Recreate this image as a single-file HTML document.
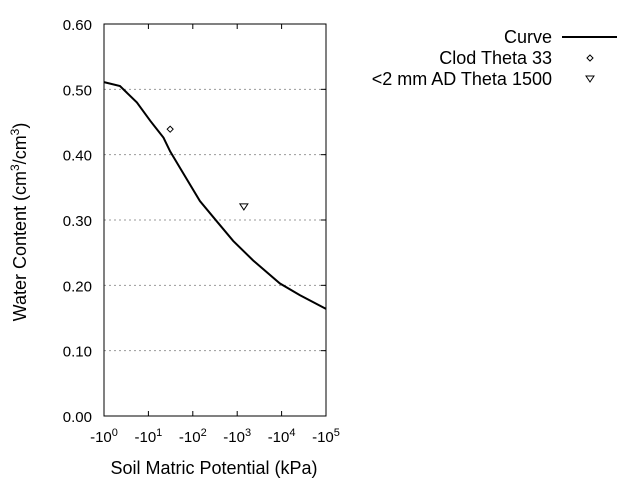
<!DOCTYPE html>
<html><head><meta charset="utf-8"><style>
body{margin:0;background:#fff;}
svg text{font-family:"Liberation Sans",Arial,sans-serif;}
</style></head><body>
<svg id="chart" width="640" height="480" xmlns="http://www.w3.org/2000/svg">
<g id="grid"></g>
<g id="axes"></g>
<g id="series"></g>
<text transform="translate(26,222) rotate(-90)" text-anchor="middle" font-size="18">Water Content (cm<tspan dy="-7" font-size="12">3</tspan><tspan dy="7">/cm</tspan><tspan dy="-7" font-size="12">3</tspan><tspan dy="7">)</tspan></text>
<text x="214" y="474" text-anchor="middle" font-size="18">Soil Matric Potential (kPa)</text>
<g>
<text x="552" y="43" text-anchor="end" font-size="18">Curve</text>
<line x1="562" y1="37" x2="617" y2="37" stroke="#000" stroke-width="2"/>
<text x="552" y="64" text-anchor="end" font-size="18">Clod Theta 33</text>
<path d="M590,55 L593,58 L590,61 L587,58 Z" fill="none" stroke="#000" stroke-width="1"/>
<text x="552" y="85" text-anchor="end" font-size="18">&lt;2 mm AD Theta 1500</text>
<path d="M586,76 L594,76 L590,82 Z" fill="none" stroke="#000" stroke-width="1"/>
</g>
</svg>
<script>
const curveLogH=[0,0.36,0.74,1.04,1.34,1.49,1.71,2.16,2.54,2.91,3.36,3.96,4.41,5];
const curveTheta=[0.511,0.505,0.48,0.452,0.426,0.405,0.38,0.329,0.298,0.268,0.238,0.203,0.185,0.164];
const clodLogH=[1.49];
const clodTheta=[0.439];
const adLogH=[3.15];
const adTheta=[0.32];
const yTicks=[0,0.1,0.2,0.3,0.4,0.5,0.6];
const xTickExp=[0,1,2,3,4,5];
const L=104,R=326,T=24,B=416;
const xs=v=>L+(v-0)/(5-0)*(R-L);
const ys=v=>B-v/0.6*(B-T);
const NS='http://www.w3.org/2000/svg';
function mk(tag,parent,attrs){const e=document.createElementNS(NS,tag);for(const k in attrs)e.setAttribute(k,attrs[k]);parent.appendChild(e);return e;}
const grid=document.getElementById('grid'),axes=document.getElementById('axes'),ser=document.getElementById('series');
yTicks.forEach(v=>{
  const y=ys(v);
  if(v>0&&v<0.6){const g=mk('line',grid,{x1:L,x2:R,y1:y,y2:y,stroke:'#999','stroke-dasharray':'2,3','stroke-width':1});
  
  }
  const t=mk('text',axes,{x:L-12,y:y+6,'text-anchor':'end','font-size':15});
  
  
  t.textContent=v.toFixed(2);
  const tk=mk('line',axes,{x1:R-5,x2:R,y1:y,y2:y,stroke:'#000'});
  
  
});
xTickExp.forEach(e=>{
  const x=xs(e);
  const tk=mk('line',axes,{x1:x,x2:x,y1:B,y2:B-5,stroke:'#000'});
  
  
  const tk2=mk('line',axes,{x1:x,x2:x,y1:T,y2:T+5,stroke:'#000'});
  
  
  const t=mk('text',axes,{x:x,y:B+26,'text-anchor':'middle','font-size':15});
  
  
  t.innerHTML='-10<tspan dy="-6" font-size="11">'+e+'</tspan>';
});
const fr=mk('rect',axes,{x:L,y:T,width:R-L,height:B-T,fill:'none',stroke:'#000','stroke-width':1});


const pl=mk('polyline',ser,{points:curveLogH.map((v,i)=>xs(v)+','+ys(curveTheta[i])).join(' '),fill:'none',stroke:'#000','stroke-width':2});


clodLogH.forEach((v,i)=>{const x=xs(v),y=ys(clodTheta[i]);
  const p=mk('path',ser,{d:`M${x},${y-3} L${x+3},${y} L${x},${y+3} L${x-3},${y} Z`,fill:'none',stroke:'#000'});
  
  });
adLogH.forEach((v,i)=>{const x=xs(v),y=ys(adTheta[i]);
  const p=mk('path',ser,{d:`M${x-4},${y-3} L${x+4},${y-3} L${x},${y+3} Z`,fill:'none',stroke:'#000'});
  
  });
</script>
</body></html>
